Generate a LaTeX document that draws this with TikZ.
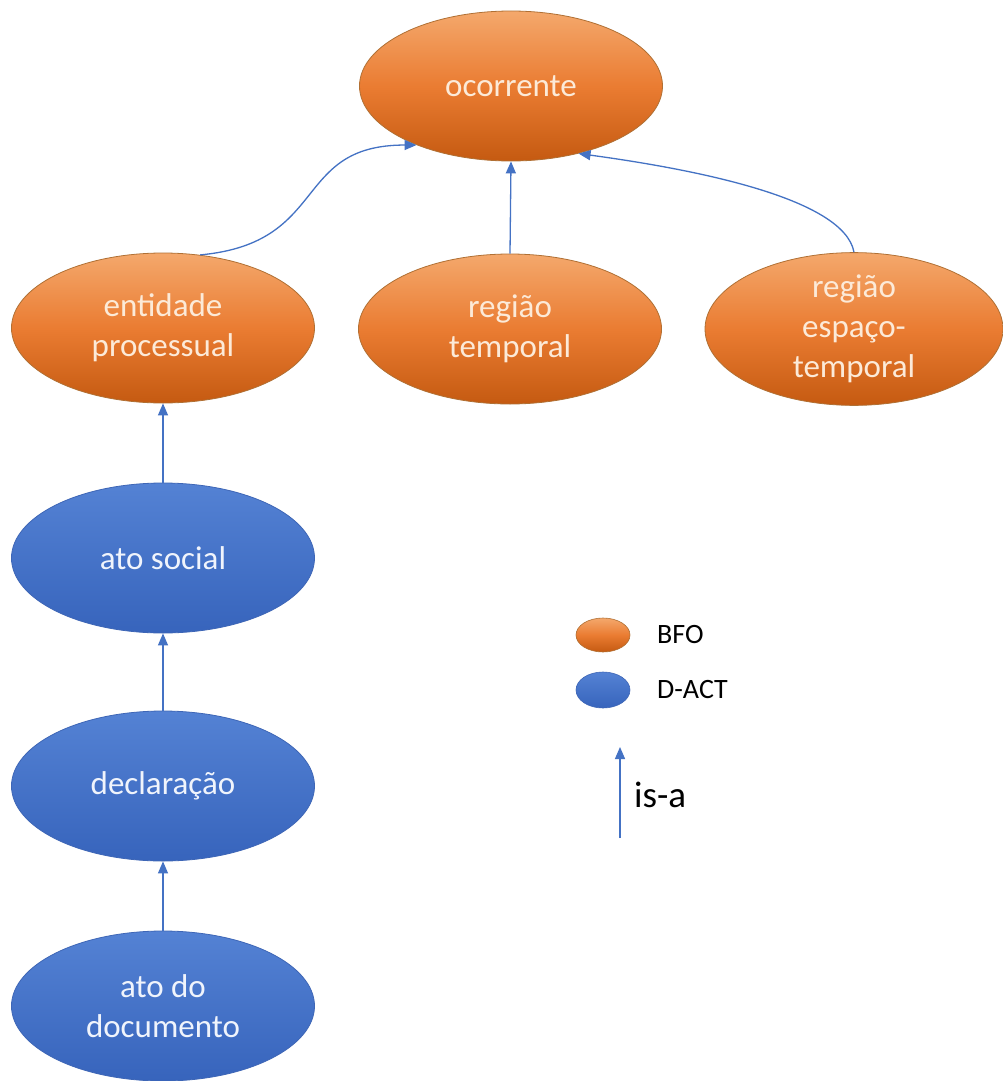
\documentclass[tikz,border=0pt]{standalone}
\usepackage{fontspec}
\setmainfont{Carlito}
\usetikzlibrary{shapes.geometric,arrows.meta}
\definecolor{orTop}{RGB}{244,168,108}
\definecolor{orMid}{RGB}{234,124,50}
\definecolor{orBot}{RGB}{197,90,17}
\definecolor{orLine}{RGB}{176,112,52}
\definecolor{orText}{RGB}{252,234,216}
\definecolor{blTop}{RGB}{84,130,212}
\definecolor{blBot}{RGB}{55,100,188}
\definecolor{blLine}{RGB}{62,102,182}
\definecolor{blText}{RGB}{240,244,252}
\definecolor{isaBlue}{RGB}{68,114,196}
\begin{document}
\begin{tikzpicture}[x=1pt,y=-1pt,
  concept/.style={ellipse, inner sep=0pt, minimum width=303pt, minimum height=150pt,
    align=center, font=\fontsize{33}{40}\selectfont, line width=0.8pt},
  bfo/.style={draw=orLine, top color=orTop, bottom color=orBot, middle color=orMid, text=orText},
  dact/.style={draw=blLine, top color=blTop, bottom color=blBot, text=blText},
  bfoconcept/.style={concept, bfo},
  dactconcept/.style={concept, dact},
  legendmark/.style={ellipse, inner sep=0pt, minimum width=54pt, minimum height=34pt, line width=0.6pt},
  legendtext/.style={anchor=west, inner sep=0pt, font=\fontsize{28}{32}\selectfont},
  isa/.style={draw=isaBlue, line width=1.3pt, -{Triangle[length=12pt,width=10pt]}}]

\fill[white] (0,0) rectangle (1003,1081);
\useasboundingbox (0,0) rectangle (1003,1081);

% BFO classes
\node[bfoconcept] (oc)  at (511,86)  {ocorrente};
\node[bfoconcept] (ent) at (163,328) {entidade\\processual};
\node[bfoconcept] (rt)  at (510,329) {região\\temporal};
\node[bfoconcept, minimum width=298pt] (ret) at (854,329) {região\\espaço-\\temporal};

% D-ACT classes
\node[dactconcept] (soc) at (163,558)  {ato social};
\node[dactconcept] (dec) at (163,786)  {declaração};
\node[dactconcept] (doc) at (163,1006) {ato do\\documento};

% is-a links
\draw[isa] (ent.63) .. controls +(130,-12) and +(-125,0) .. (oc.212);
\draw[isa] (rt.north) -- (oc.south);
\draw[isa] (ret.north) .. controls +(-10,-55) and +(110,15) .. (oc.315);
\draw[isa] (soc.north) -- (ent.south);
\draw[isa] (dec.north) -- (soc.south);
\draw[isa] (doc.north) -- (dec.south);

% legend
\node[legendmark, bfo]  (lbfo)  at (603,635) {};
\node[legendtext]       (tbfo)  at (657,635) {BFO};
\node[legendmark, dact, minimum height=36pt] (ldact) at (603,690) {};
\node[legendtext]       (tdact) at (657,690) {D-ACT};
\coordinate (isaTail) at (620,838);
\coordinate (isaHead) at (620,747);
\draw[isa] (isaTail) -- (isaHead);
\node[legendtext, font=\fontsize{37}{40}\selectfont] (tisa) at (634,795) {is-a};
\end{tikzpicture}
\end{document}
